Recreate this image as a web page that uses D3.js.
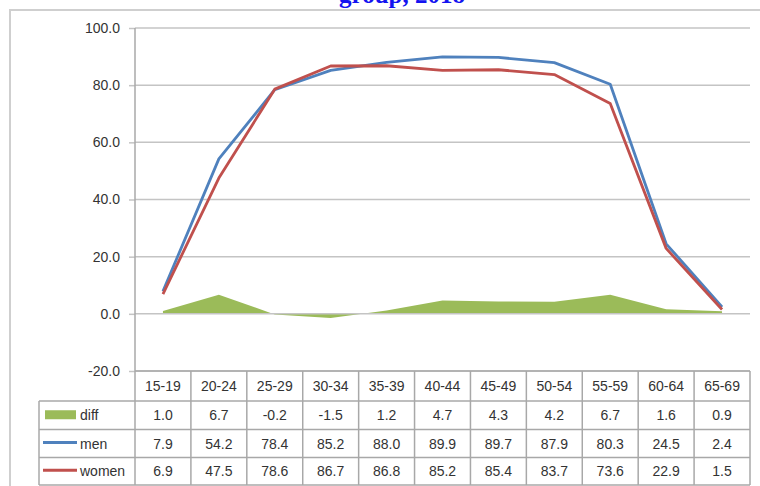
<!DOCTYPE html>
<meta charset="utf-8">
<script src="https://d3js.org/d3.v7.min.js"></script>
<style>
  body { margin: 0; background: #fff; }
  text { font-family: "Liberation Sans", Arial, sans-serif; }
</style>
<div id="chart"></div>
<script>
var ages = ["15-19","20-24","25-29","30-34","35-39","40-44","45-49","50-54","55-59","60-64","65-69"];
var diff = [1.0, 6.7, -0.2, -1.5, 1.2, 4.7, 4.3, 4.2, 6.7, 1.6, 0.9];
var men = [7.9, 54.2, 78.4, 85.2, 88.0, 89.9, 89.7, 87.9, 80.3, 24.5, 2.4];
var women = [6.9, 47.5, 78.6, 86.7, 86.8, 85.2, 85.4, 83.7, 73.6, 22.9, 1.5];
var yTicks = [100, 80, 60, 40, 20, 0, -20];

var width = 760, height = 486;
var green = "#9BBB59", blue = "#4F81BD", red = "#C0504D", grid = "#c4c4c4";
var fmt = function(d) { return d.toFixed(1); };

var svg = d3.select("#chart").append("svg")
    .attr("width", width)
    .attr("height", height);

// outer frame
svg.append("rect")
    .attr("x", 10).attr("y", 10)
    .attr("width", 800).attr("height", 500)
    .attr("fill", "none")
    .attr("stroke", "#cfcfcf")
    .attr("stroke-width", 2);

// title (cut off at the top, as in the source)
svg.append("text")
    .attr("x", 402).attr("y", 3)
    .attr("text-anchor", "middle")
    .style("font-family", "'Liberation Serif', 'DejaVu Serif', serif")
    .style("font-weight", "bold")
    .style("font-size", "25px")
    .attr("fill", "#1414f0")
    .text("group, 2018");

var x = d3.scaleBand().domain(ages).range([135, 750]);
var y = d3.scaleLinear().domain([-20, 100]).range([371, 28]);
var cx = function(d, i) { return x(ages[i]) + x.bandwidth() / 2; };

// gridlines
svg.append("g").selectAll("line")
    .data(yTicks.filter(function(t) { return t !== 0; }))
    .enter().append("line")
    .attr("x1", 135).attr("x2", 750)
    .attr("y1", function(d) { return y(d); })
    .attr("y2", function(d) { return y(d); })
    .attr("stroke", grid)
    .attr("stroke-width", 1.5);

// y axis
var yAxis = svg.append("g")
    .attr("transform", "translate(135,0)")
    .call(d3.axisLeft(y).tickValues(yTicks).tickFormat(fmt).tickSize(6).tickPadding(9));
yAxis.select(".domain").remove();
yAxis.selectAll(".tick line").attr("stroke", grid).attr("stroke-width", 1.5);
yAxis.selectAll(".tick text")
    .attr("fill", "#333")
    .style("font-size", "14px")
    .style("font-family", "'Liberation Sans', Arial, sans-serif");

// diff area
svg.append("path")
    .datum(diff)
    .attr("fill", green)
    .attr("d", d3.area().x(cx).y0(y(0)).y1(function(d) { return y(d); }));

// zero line
svg.append("line")
    .attr("x1", 135).attr("x2", 750)
    .attr("y1", y(0)).attr("y2", y(0))
    .attr("stroke", grid)
    .attr("stroke-width", 1.5);

// vertical axis line
svg.append("line")
    .attr("x1", 135).attr("x2", 135)
    .attr("y1", y(100)).attr("y2", 485)
    .attr("stroke", "#a8a8a8")
    .attr("stroke-width", 1.5);

var line = d3.line().x(cx).y(function(d) { return y(d); });
svg.append("path").datum(men)
    .attr("fill", "none").attr("stroke", blue).attr("stroke-width", 2.8)
    .attr("stroke-linejoin", "round")
    .attr("d", line);
svg.append("path").datum(women)
    .attr("fill", "none").attr("stroke", red).attr("stroke-width", 2.8)
    .attr("stroke-linejoin", "round")
    .attr("d", line);

// data table
var rows = [371, 401, 429.5, 457.5, 485];
var tbl = svg.append("g");
var tblStroke = "#a8a8a8";

rows.forEach(function(r, i) {
    tbl.append("line")
        .attr("x1", i === 0 ? 135 : 39).attr("x2", 750)
        .attr("y1", r).attr("y2", r)
        .attr("stroke", tblStroke).attr("stroke-width", 1.5);
});
ages.forEach(function(a) {
    tbl.append("line")
        .attr("x1", x(a) + x.bandwidth()).attr("x2", x(a) + x.bandwidth())
        .attr("y1", rows[0]).attr("y2", rows[4])
        .attr("stroke", tblStroke).attr("stroke-width", 1.5);
});
tbl.append("line")
    .attr("x1", 39).attr("x2", 39)
    .attr("y1", rows[1]).attr("y2", rows[4])
    .attr("stroke", tblStroke).attr("stroke-width", 1.5);

function mid(i) { return (rows[i] + rows[i + 1]) / 2; }

tbl.selectAll("text.cat")
    .data(ages)
    .enter().append("text")
    .attr("class", "cat")
    .attr("x", function(d) { return x(d) + x.bandwidth() / 2; })
    .attr("y", mid(0))
    .attr("dy", "0.36em")
    .attr("text-anchor", "middle")
    .attr("fill", "#333")
    .style("font-size", "14px")
    .text(function(d) { return d; });

var series = [
    {name: "diff", values: diff, color: green},
    {name: "men", values: men, color: blue},
    {name: "women", values: women, color: red}
];

series.forEach(function(s, k) {
    var ym = mid(k + 1);
    if (s.name === "diff") {
        tbl.append("rect")
            .attr("x", 45).attr("y", ym - 5)
            .attr("width", 31).attr("height", 9)
            .attr("fill", s.color);
    } else {
        tbl.append("line")
            .attr("x1", 43).attr("x2", 77)
            .attr("y1", ym - 1).attr("y2", ym - 1)
            .attr("stroke", s.color).attr("stroke-width", 2.8);
    }
    tbl.append("text")
        .attr("x", 80).attr("y", ym)
        .attr("dy", "0.36em")
        .attr("fill", "#333")
        .style("font-size", "14px")
        .text(s.name);
    tbl.selectAll("text.v" + k)
        .data(s.values)
        .enter().append("text")
        .attr("class", "v" + k)
        .attr("x", function(d, i) { return cx(d, i); })
        .attr("y", ym)
        .attr("dy", "0.36em")
        .attr("text-anchor", "middle")
        .attr("fill", "#333")
        .style("font-size", "14px")
        .text(fmt);
});
</script>
